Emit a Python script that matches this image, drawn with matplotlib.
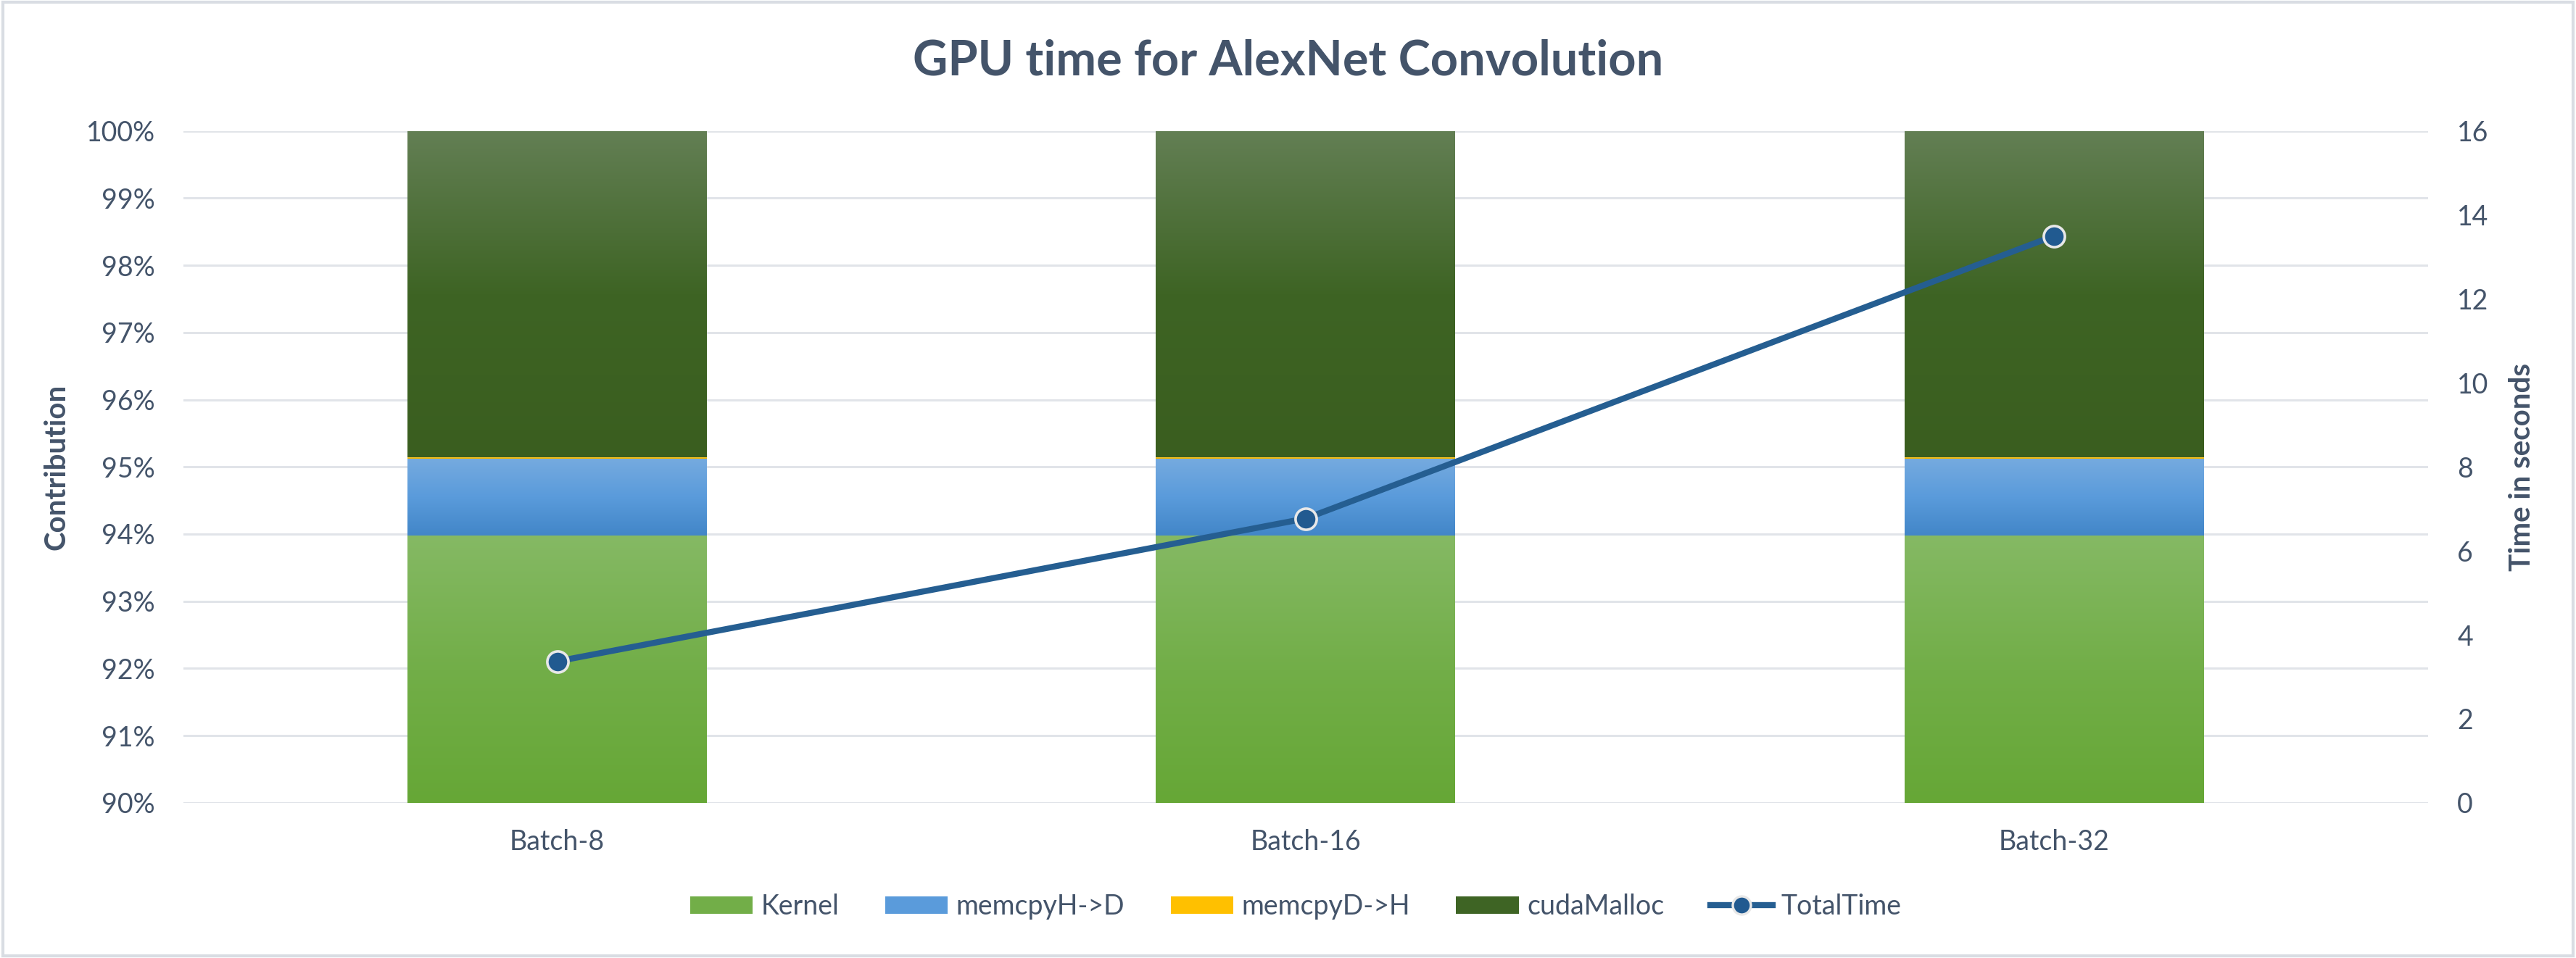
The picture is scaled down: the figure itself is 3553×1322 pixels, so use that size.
import numpy as np
import matplotlib.pyplot as plt
from matplotlib.colors import LinearSegmentedColormap
from matplotlib.lines import Line2D
from matplotlib.patches import Patch, Rectangle

# chart data
batches = ['Batch-8', 'Batch-16', 'Batch-32']
kernel = [93.98, 93.98, 93.98]        # % contribution
memcpy_h2d = [1.14, 1.14, 1.14]
memcpy_d2h = [0.02, 0.02, 0.02]
cuda_malloc = [4.86, 4.86, 4.86]
total_time = [3.37, 6.77, 13.5]       # seconds

pct_ticks = list(range(90, 101))
sec_ticks = list(range(0, 17, 2))

text_col = '#44546A'
grid_col = '#E1E4E9'
line_col = '#255E91'

# top -> mid -> bottom gradient stops for each series
grads = {
    'Kernel': ['#85B964', '#72AE48', '#66A736'],
    'memcpyH->D': ['#75AADF', '#5A9BDB', '#4286C8'],
    'memcpyD->H': ['#FFCB45', '#FFC000', '#E8AE00'],
    'cudaMalloc': ['#637F54', '#3E6424', '#3A5E1F'],
}

plt.rcParams['font.family'] = ['Lato', 'DejaVu Sans']

fig = plt.figure(figsize=(35.53, 13.22), dpi=100)
ax = fig.add_axes([0.0711, 0.162, 0.8715, 0.7013])
ax2 = ax.twinx()

x = np.arange(len(batches))
width = 0.4
ymin, ymax = 90, 100


def gradient_fill(ax, bars, colors):
    # paint each bar with a vertical gradient over its visible part
    cmap = LinearSegmentedColormap.from_list('g', colors[::-1])
    grad = np.linspace(0, 1, 256).reshape(-1, 1)
    for b in bars:
        x0, y0 = b.get_x(), b.get_y()
        y1 = y0 + b.get_height()
        y0 = max(y0, ymin)
        ax.imshow(grad, cmap=cmap, aspect='auto', origin='lower',
                  extent=(x0, x0 + b.get_width(), y0, y1), zorder=2)
        b.set_visible(False)


bottom = np.zeros(len(batches))
handles = []
for name, vals in [('Kernel', kernel), ('memcpyH->D', memcpy_h2d),
                   ('memcpyD->H', memcpy_d2h), ('cudaMalloc', cuda_malloc)]:
    bars = ax.bar(x, vals, width, bottom=bottom, zorder=2, linewidth=0)
    gradient_fill(ax, bars, grads[name])
    bottom = bottom + np.array(vals)
    handles.append(Patch(facecolor=grads[name][1], edgecolor='none', label=name))

ax.set_xlim(-0.5, 2.5)
ax.set_ylim(ymin, ymax)
ax.set_yticks(pct_ticks)
ax.set_yticklabels([f'{t}%' for t in pct_ticks])
ax.set_xticks(x)
ax.set_xticklabels(batches)
ax.grid(axis='y', color=grid_col, linewidth=2.2, zorder=0)
ax.set_axisbelow(True)
ax.tick_params(axis='y', length=0, pad=28, labelsize=27, labelcolor=text_col)
ax.tick_params(axis='x', length=0, pad=26, labelsize=27, labelcolor=text_col)
ax.set_ylabel('Contribution', fontsize=29, fontweight='bold', color=text_col, labelpad=16)

ax2.plot(x, total_time, color=line_col, linewidth=6, marker='o', markersize=21,
         markerfacecolor='#215A90', markeredgecolor='#E8E8E8', markeredgewidth=2.6,
         zorder=5)
ax2.set_ylim(0, 16)
ax2.set_yticks(sec_ticks)
ax2.tick_params(axis='y', length=0, pad=29, labelsize=27, labelcolor=text_col)
for lab in ax2.get_yticklabels():
    lab.set_horizontalalignment('left')
ax2.set_ylabel('Time in seconds', fontsize=29, fontweight='bold', color=text_col, labelpad=20)

for a in (ax, ax2):
    for s in a.spines.values():
        s.set_visible(False)

handles.append(Line2D([0], [0], color=line_col, linewidth=6, marker='o', markersize=18,
                      markerfacecolor='#215A90', markeredgecolor='#E8E8E8',
                      markeredgewidth=2.4, label='TotalTime'))
fig.legend(handles=handles, loc='center', bbox_to_anchor=(0.503, 0.0537), ncol=5,
           frameon=False, fontsize=27, labelcolor=text_col, handlelength=2.3,
           handleheight=0.6, handletextpad=0.3, columnspacing=1.7)

fig.suptitle('GPU time for AlexNet Convolution', y=0.936, va='center', fontsize=48,
             fontweight='bold', color=text_col)

# light frame around the chart
fig.patches.append(Rectangle((0.001, 0.002), 0.998, 0.996, transform=fig.transFigure,
                             fill=False, edgecolor='#D9DDE3', linewidth=3))

fig.savefig('out.png', dpi=100, facecolor='white')
